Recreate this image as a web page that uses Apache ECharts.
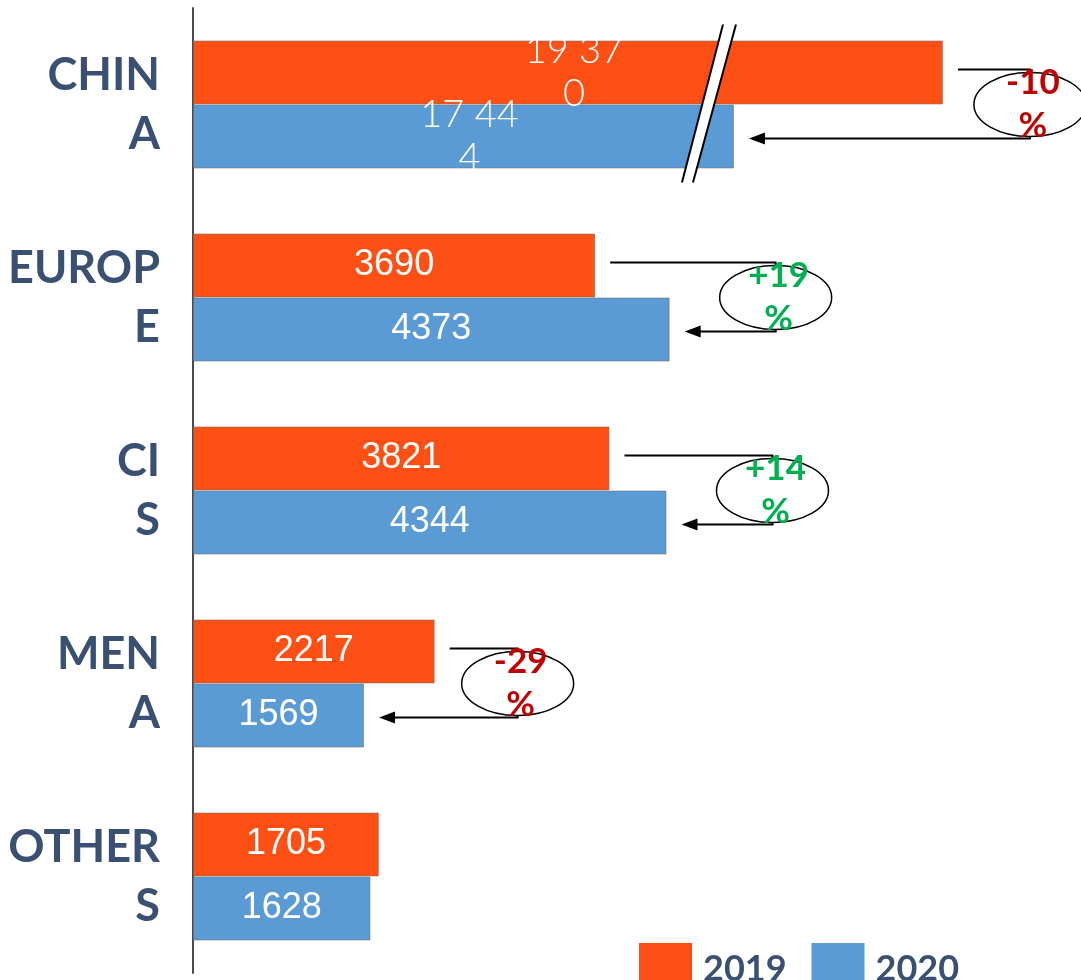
<!DOCTYPE html>
<html><head><meta charset="utf-8">
<script src="https://cdn.jsdelivr.net/npm/echarts@6/dist/echarts.min.js"></script>
<style>html,body{margin:0;padding:0;background:#fff}#c{width:1081px;height:980px}</style>
</head><body><div id="c"></div>
<script>
// ---- data ----
const categories = ['CHINA', 'EUROPE', 'CIS', 'MENA', 'OTHERS'];
const tickLabels = ['CHIN\nA', 'EUROP\nE', 'CI\nS', 'MEN\nA', 'OTHER\nS'];
const sales2019 = [19370, 3690, 3821, 2217, 1705];
const sales2020 = [17444, 4373, 4344, 1569, 1628];
// China bars are drawn on a broken axis: these are the drawn lengths [2019, 2020]
const chinaBrokenLength = [6880, 4963];
const changeLabels = ['-10%', '+19%', '+14%', '-29%', ''];

// ---- styling ----
const ORANGE = '#FE5014', BLUE = '#5B9BD5', NAVY = '#3A5073';
const RED = '#C00000', GREEN = '#00B050';
const ovalGap = [87, 106, 106, 83]; // layout: oval centre distance past the longer bar

const fmtNum = v => v >= 10000 ? String(v).replace(/\B(?=(\d{3})+(?!\d))/g, ' ') : String(v);

function barData(vals, brokenLen) {
  return vals.map((v, i) => i === 0
    ? { value: brokenLen, actual: v,
        label: { fontFamily: 'Lato', fontWeight: 300, fontSize: 38, lineHeight: 43, offset: [6, 0] } }
    : { value: v, actual: v });
}

function labelFmt(p) {
  const s = fmtNum(p.data.actual);
  return p.dataIndex === 0 ? s.slice(0, 5) + '\n' + s.slice(5) : s;
}

const barLabel = {
  show: true, position: 'inside', color: '#fff',
  fontFamily: 'Liberation Sans, Arial, sans-serif', fontSize: 36,
  formatter: labelFmt
};
const border = { borderColor: 'rgba(110,110,110,0.55)', borderWidth: 1 };

const chart = echarts.init(document.getElementById('c'), null, { renderer: 'canvas' });
chart.setOption({
  animation: false,
  grid: { left: 193, right: 16, top: 8, bottom: 7, containLabel: false },
  xAxis: { type: 'value', min: 0, max: 8000, show: false },
  yAxis: {
    type: 'category', data: categories, inverse: true,
    axisLine: { show: true, lineStyle: { color: '#4a4a4a', width: 2 } },
    axisTick: { show: false }, splitLine: { show: false },
    axisLabel: {
      formatter: (v, i) => tickLabels[i], margin: 33,
      fontFamily: 'Lato, sans-serif', fontWeight: 'bold', fontSize: 45,
      lineHeight: 59, color: NAVY, align: 'right'
    }
  },
  legend: {
    data: ['2019', '2020'], left: 639, top: 943, padding: 0, itemWidth: 53, itemHeight: 53,
    itemGap: 25, icon: 'rect', selectedMode: false,
    itemStyle: { borderWidth: 0 },
    textStyle: { fontFamily: 'Lato, sans-serif', fontWeight: 'bold', fontSize: 36, color: NAVY, padding: [0, 0, 16, 6] }
  },
  series: [
    { name: '2019', type: 'bar', barWidth: 64, barGap: '0%',
      itemStyle: Object.assign({ color: ORANGE }, border),
      label: barLabel, data: barData(sales2019, chinaBrokenLength[0]) },
    { name: '2020', type: 'bar', barWidth: 64, barGap: '0%',
      itemStyle: Object.assign({ color: BLUE }, border),
      label: barLabel, data: barData(sales2020, chinaBrokenLength[1]) }
  ]
});

// ---- annotations (break mark, change ovals & arrows) ----
const px = (v, i) => chart.convertToPixel({ xAxisIndex: 0, yAxisIndex: 0 }, [v, i]);
const g = [];
const shown19 = sales2019.map((v, i) => i === 0 ? chinaBrokenLength[0] : v);
const shown20 = sales2020.map((v, i) => i === 0 ? chinaBrokenLength[1] : v);

changeLabels.forEach((lab, i) => {
  if (!lab) return;
  const e19 = px(shown19[i], i)[0], e20 = px(shown20[i], i)[0];
  const cy = px(0, i)[1];
  const cx = Math.max(e19, e20) + ovalGap[i];
  const yTop = cy - 35, yBot = cy + 34;
  g.push({ type: 'polyline', z: 20, shape: { points: [[e19 + 15, yTop], [cx, yTop], [cx, yBot], [e20 + 28, yBot]] },
    style: { stroke: '#000', lineWidth: 2, fill: null } });
  g.push({ type: 'polygon', z: 20, shape: { points: [[e20 + 15, yBot], [e20 + 31, yBot - 6], [e20 + 31, yBot + 6]] },
    style: { fill: '#000' } });
  g.push({ type: 'ellipse', z: 21, shape: { cx: cx, cy: cy, rx: 56, ry: 32 },
    style: { fill: '#fff', stroke: '#000', lineWidth: 1.5 } });
  g.push({ type: 'text', z: 22, x: cx + 3, y: cy,
    style: { text: lab.replace('%', '\n%'), fill: lab[0] === '+' ? GREEN : RED,
      font: 'bold 35px Lato, sans-serif', lineHeight: 43, align: 'center', verticalAlign: 'middle' } });
});

// axis-break mark across the China bars
(function () {
  const e20 = px(shown20[0], 0)[0];
  const cy = px(0, 0)[1];
  const t = cy - 80, b = cy + 78;
  const p1t = [e20 - 11, t], p1b = [e20 - 52, b], p2t = [e20 + 2, t], p2b = [e20 - 41, b];
  g.push({ type: 'polygon', z: 18, shape: { points: [p1t, p2t, p2b, p1b] }, style: { fill: '#fff' } });
  g.push({ type: 'line', z: 19, shape: { x1: p1t[0], y1: p1t[1], x2: p1b[0], y2: p1b[1] }, style: { stroke: '#000', lineWidth: 2 } });
  g.push({ type: 'line', z: 19, shape: { x1: p2t[0], y1: p2t[1], x2: p2b[0], y2: p2b[1] }, style: { stroke: '#000', lineWidth: 2 } });
})();

chart.setOption({ graphic: g });
</script>
</body></html>
